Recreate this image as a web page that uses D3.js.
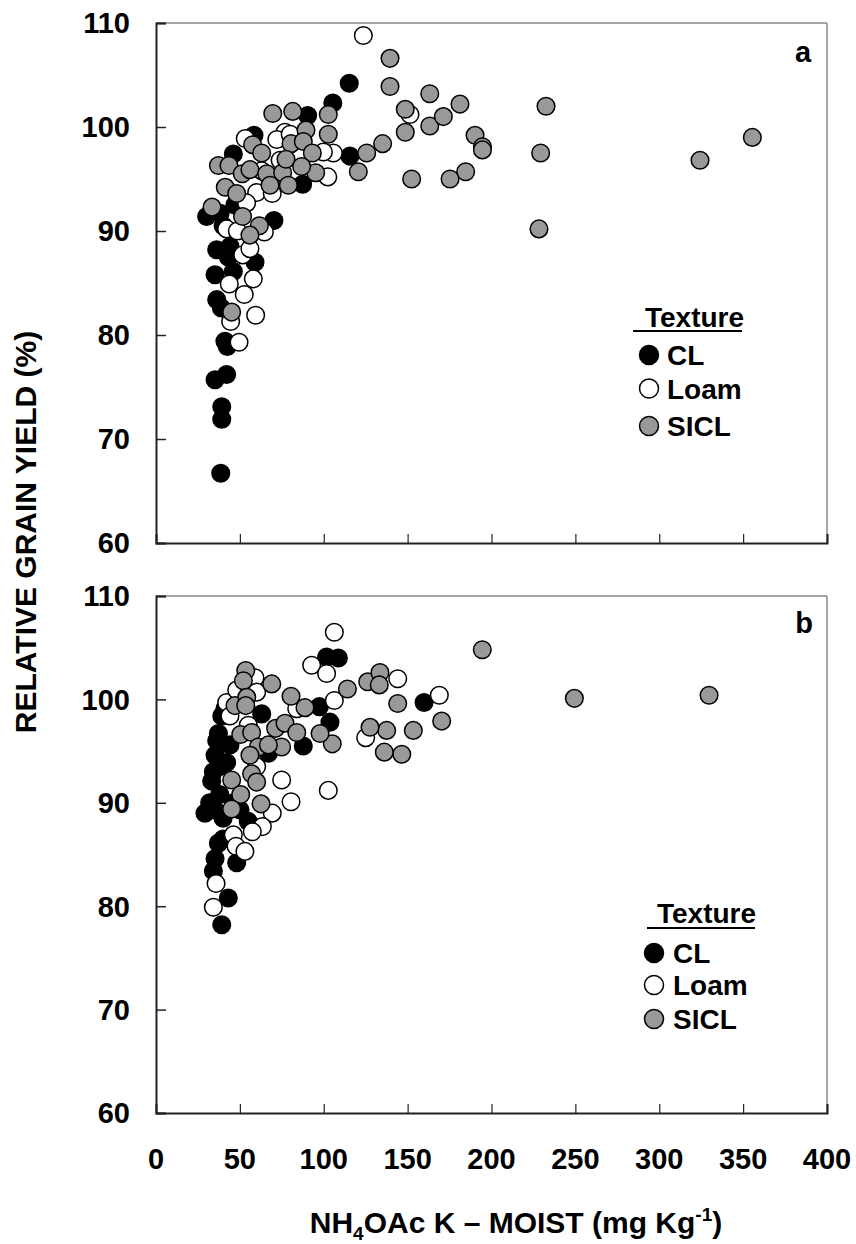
<!DOCTYPE html>
<html><head><meta charset="utf-8">
<script src="https://cdn.jsdelivr.net/npm/d3@7"></script>
<style>body{margin:0;background:#fff}svg{display:block}text{font-family:"Liberation Sans",Arial,sans-serif;font-weight:bold;fill:#000}</style>
</head><body><svg id="c" width="856" height="1244"></svg>
<script>
const xTicks=[0,50,100,150,200,250,300,350,400];
const yTicks=[60,70,80,90,100,110];
const seriesNames=["CL","Loam","SICL"];
const seriesFill=["#000000","#ffffff","#999999"];
const panelLabels=["a","b"];

const aCL=[[38.6,66.7],[39.2,73.1],[39.2,71.9],[35.2,75.7],[42.1,76.2],[41.1,79.4],[42.5,78.9],[36.2,83.4],[39,82.6],[35.2,85.8],[46.1,86.1],[59,87],[36.2,88.2],[43.1,87.5],[44.1,88.5],[30.2,91.4],[38.2,91.7],[70.3,91],[46.1,97.4],[58.4,99.2],[90.4,101.1],[87.4,94.5],[105.4,102.3],[115.2,104.2],[115.6,97.2],[40,90.5],[47,92.5]];
const aLoam=[[123.6,108.8],[151.4,101.2],[105.7,97.5],[102.4,95.2],[76.9,99.5],[72,98.8],[53.2,98.9],[60,93.7],[69.3,93.6],[42.1,90.2],[48.5,90],[64.6,89.9],[51.7,87.7],[56,88.3],[58,85.4],[43.7,84.9],[52.6,83.9],[44.5,81.3],[59.4,81.9],[49.5,79.3],[99.8,97.6],[54,92.7],[80,99.3],[74,96.8],[63,95.8]];
const aSICL=[[139.5,106.6],[139.5,103.9],[148.6,101.7],[148.6,99.5],[152.4,95],[163.2,103.2],[163.2,100.1],[171.3,101],[181.2,102.2],[190.2,99.2],[194.6,98.1],[194.6,97.8],[184.6,95.7],[175.3,95],[232.5,102],[229.3,97.5],[228.3,90.2],[324.3,96.8],[355.5,99],[135.1,98.4],[125.6,97.5],[120.6,95.7],[102.7,101.2],[102.7,99.3],[69.6,101.3],[81.5,101.5],[89.4,99.7],[80.5,98.4],[87.8,98.6],[93.2,97.5],[57.6,98.3],[63,97.5],[37.2,96.3],[43.5,96.3],[51.4,95.5],[56,95.9],[66,95.5],[75.5,95.6],[77.5,96.9],[95.2,95.6],[86.8,96.2],[68,94.4],[78.9,94.4],[41.3,94.2],[48.1,93.6],[33.4,92.3],[51.6,91.4],[61.6,90.5],[56,89.6],[45.1,82.2]];

const bCL=[[39.2,78.2],[43.1,80.8],[48.1,84.2],[34.2,83.4],[35.2,84.6],[37.2,86.1],[40,86.5],[29.2,89.0],[35.2,89.3],[32,90],[38,90.8],[33.2,92.1],[34.2,93.0],[38,93.5],[35.2,94.6],[36.2,96.0],[37.2,96.7],[39.2,98.4],[41.1,99.1],[42.1,93.9],[44.1,95.6],[46.1,90.0],[50.1,89.3],[55,88.2],[40,88.5],[63,98.6],[67,94.8],[87.8,95.5],[97.4,99.3],[103.7,97.8],[101.7,104.1],[108.7,104],[159.8,99.7]];
const bLoam=[[106.3,106.5],[92.8,103.3],[101.7,102.5],[106.3,99.9],[144.1,102],[168.9,100.4],[125,96.3],[102.7,91.2],[74.9,92.2],[80.5,90.1],[69.3,89],[63.4,87.7],[57.4,87.2],[46.1,86.9],[47.7,85.8],[53,85.3],[35.8,82.2],[34.2,79.9],[42.1,99.7],[44.1,98.4],[48.1,100.9],[59,102.1],[60,100.7],[60,93.5],[83.9,99.1],[55,97.5]];
const bSICL=[[194.5,104.8],[249.4,100.1],[329.7,100.4],[170.3,97.9],[153.4,97],[146.5,94.7],[144.1,99.6],[136.1,94.9],[137.5,97],[127.6,97.3],[126.2,101.7],[133.5,102.6],[133.1,101.4],[114.1,101],[105.1,95.7],[97.8,96.7],[88.8,99.2],[80.5,100.3],[69,101.5],[53.5,102.8],[52.1,101.8],[47.1,99.4],[54.1,100.2],[53.5,99.4],[50.5,96.6],[57,96.8],[61,95.4],[56,94.6],[71.3,97.2],[76.9,97.7],[83.9,96.8],[74.9,95.4],[67,95.6],[45.1,92.2],[57,92.8],[60,92.0],[50.5,90.8],[62.6,89.9],[45.1,89.4]];

const panels=[
  {top:23,bottom:543,data:[aCL,aLoam,aSICL],legend:{tx:645,ty:327,ux1:633,ux2:742,uy:331,cx:649,cy:[355,388.5,426],lx:667},lab:{x:803,y:62},xlabels:false},
  {top:596,bottom:1113,data:[bCL,bLoam,bSICL],legend:{tx:657,ty:923,ux1:647,ux2:755,uy:928,cx:654,cy:[953,985,1019],lx:673},lab:{x:804,y:633},xlabels:true}
];
const left=156,right=827;
const svg=d3.select("#c");
const x=d3.scaleLinear().domain([0,400]).range([left,right]);

panels.forEach((p,i)=>{
  const y=d3.scaleLinear().domain([60,110]).range([p.bottom,p.top]);
  const g=svg.append("g");
  g.append("line").attr("x1",left).attr("x2",right).attr("y1",p.top).attr("y2",p.top).attr("stroke","#888").attr("stroke-width",1.5);
  g.append("line").attr("x1",right).attr("x2",right).attr("y1",p.top).attr("y2",p.bottom).attr("stroke","#888").attr("stroke-width",1.5);
  const ya=g.append("g").attr("transform",`translate(${left},0)`).call(d3.axisRight(y).tickValues(yTicks).tickSize(10).tickFormat(""));
  ya.select(".domain").attr("stroke","#222").attr("stroke-width",2);
  ya.selectAll(".tick line").attr("stroke","#222").attr("stroke-width",1.5);
  yTicks.forEach(t=>{
    g.append("text").attr("x",130).attr("y",y(t)).attr("dy","0.36em").attr("text-anchor","end").attr("font-size",29).text(t);
  });
  const xa=g.append("g").attr("transform",`translate(0,${p.bottom})`).call(d3.axisTop(x).tickValues(xTicks).tickSize(9).tickFormat(""));
  xa.select(".domain").attr("stroke","#222").attr("stroke-width",2);
  xa.selectAll(".tick line").attr("stroke","#222").attr("stroke-width",1.2);
  if(p.xlabels){
    xTicks.forEach(t=>{
      g.append("text").attr("x",x(t)).attr("y",1169).attr("text-anchor","middle").attr("font-size",29).text(t);
    });
  }
  p.data.forEach((arr,si)=>{
    g.append("g").selectAll("circle").data(arr).join("circle")
      .attr("cx",d=>x(d[0])).attr("cy",d=>y(d[1])).attr("r",8.8)
      .attr("fill",seriesFill[si]).attr("stroke","#000").attr("stroke-width",1.5);
  });
  g.append("text").attr("x",p.lab.x).attr("y",p.lab.y).attr("text-anchor","middle").attr("font-size",29).text(panelLabels[i]);
  const L=p.legend;
  g.append("text").attr("x",L.tx).attr("y",L.ty).attr("font-size",28).text("Texture");
  g.append("line").attr("x1",L.ux1).attr("x2",L.ux2).attr("y1",L.uy).attr("y2",L.uy).attr("stroke","#000").attr("stroke-width",2);
  seriesNames.forEach((n,si)=>{
    g.append("circle").attr("cx",L.cx).attr("cy",L.cy[si]).attr("r",9.5).attr("fill",seriesFill[si]).attr("stroke","#000").attr("stroke-width",1.5);
    g.append("text").attr("x",L.lx).attr("y",L.cy[si]).attr("dy","0.36em").attr("font-size",28).text(n);
  });
});

svg.append("text").attr("transform","translate(36,532) rotate(-90)").attr("text-anchor","middle").attr("font-size",30).text("RELATIVE GRAIN YIELD (%)");
const xt=svg.append("text").attr("x",516).attr("y",1233).attr("text-anchor","middle").attr("font-size",30);
xt.append("tspan").text("NH");
xt.append("tspan").attr("font-size",19).attr("dy",7).text("4");
xt.append("tspan").attr("dy",-7).text("OAc K \u2013 MOIST (mg Kg");
xt.append("tspan").attr("font-size",19).attr("dy",-12).text("-1");
xt.append("tspan").attr("dy",12).text(")");
</script></body></html>
